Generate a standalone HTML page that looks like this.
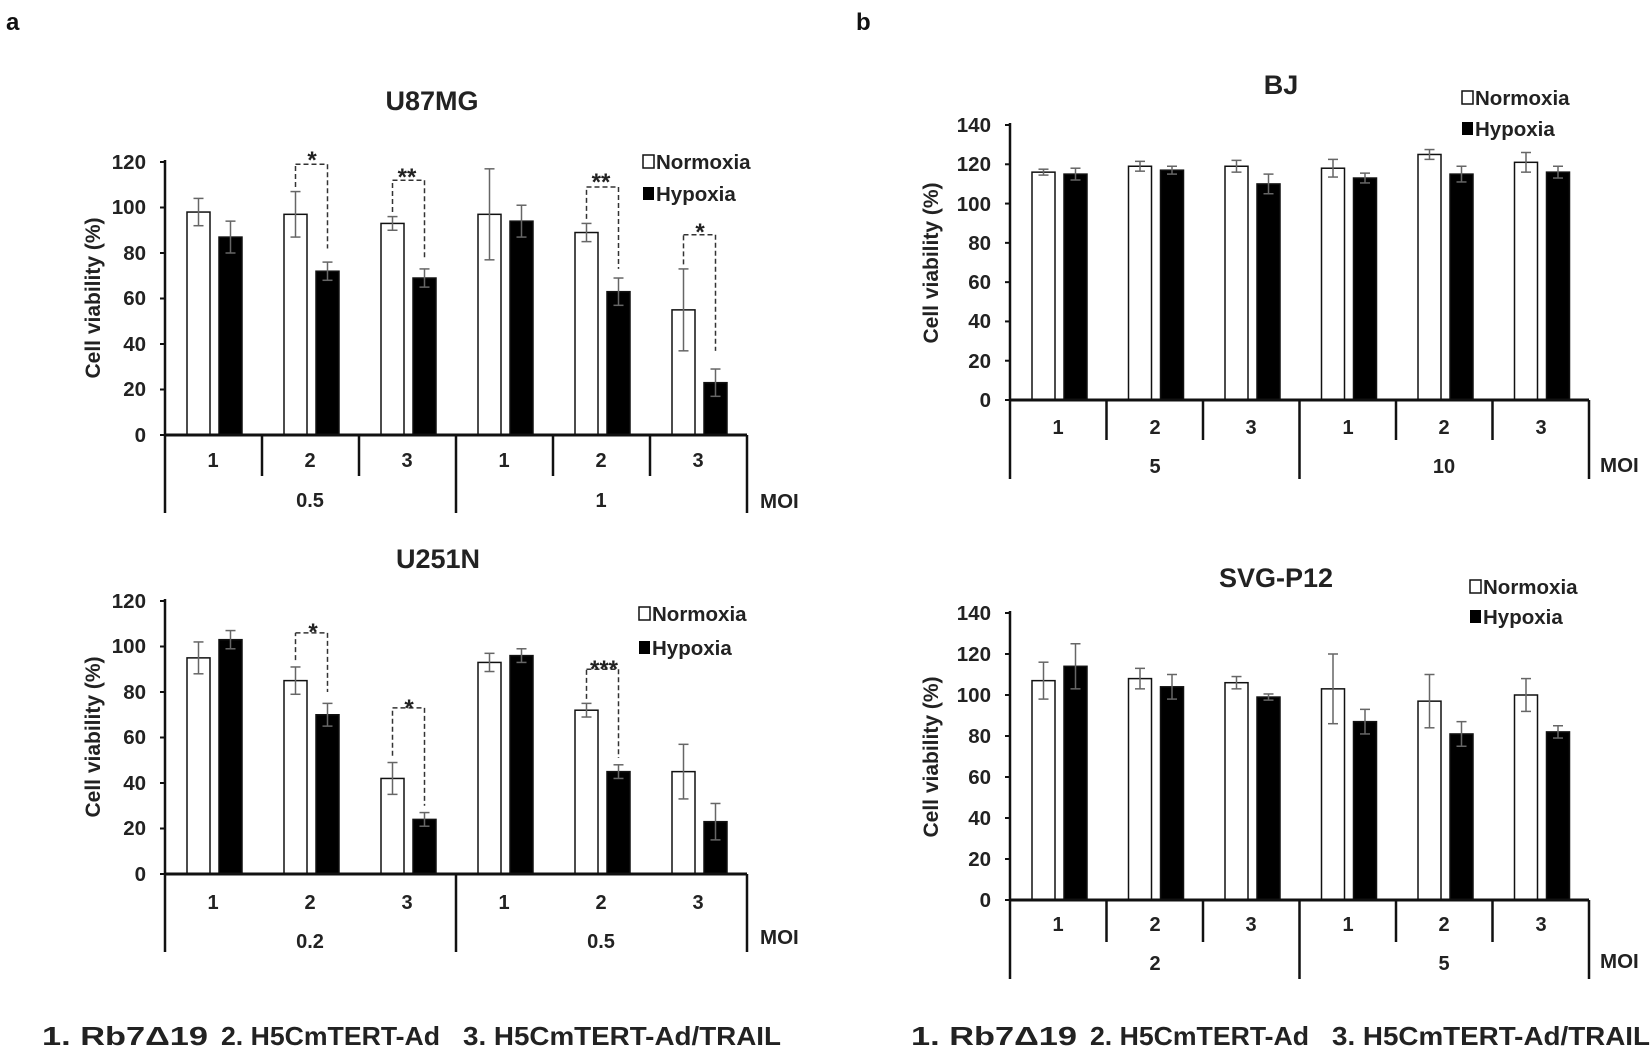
<!DOCTYPE html>
<html><head><meta charset="utf-8"><style>
html,body{margin:0;padding:0;background:#fff;}
svg{display:block;font-family:"Liberation Sans",Arial,sans-serif;font-weight:bold;}
</style></head><body>
<svg id="s" width="1650" height="1060" viewBox="0 0 1650 1060" xmlns="http://www.w3.org/2000/svg">
<rect width="1650" height="1060" fill="#fff"/>
<g id="g"></g>
<g font-size="24" fill="#111">
<text x="6" y="30">a</text><text x="856" y="30">b</text>
</g>
<g font-size="27" fill="#222" text-anchor="middle">
<text x="432" y="110">U87MG</text>
<text x="438" y="568">U251N</text>
<text x="1281" y="94">BJ</text>
<text x="1276" y="587">SVG-P12</text>
</g>
<g font-size="20.5" fill="#222" text-anchor="end">
<text x="146" y="442">0</text><text x="146" y="396">20</text><text x="146" y="351">40</text><text x="146" y="305">60</text><text x="146" y="260">80</text><text x="146" y="214">100</text><text x="146" y="169">120</text>
<text x="146" y="881">0</text><text x="146" y="835">20</text><text x="146" y="790">40</text><text x="146" y="744">60</text><text x="146" y="699">80</text><text x="146" y="653">100</text><text x="146" y="608">120</text>
<text x="991" y="407">0</text><text x="991" y="368">20</text><text x="991" y="328">40</text><text x="991" y="289">60</text><text x="991" y="250">80</text><text x="991" y="211">100</text><text x="991" y="171">120</text><text x="991" y="132">140</text>
<text x="991" y="907">0</text><text x="991" y="866">20</text><text x="991" y="825">40</text><text x="991" y="784">60</text><text x="991" y="743">80</text><text x="991" y="702">100</text><text x="991" y="661">120</text><text x="991" y="620">140</text>
</g>
<g font-size="21" fill="#222" text-anchor="middle">
<text transform="translate(100,298) rotate(-90)">Cell viability (%)</text>
<text transform="translate(100,737) rotate(-90)">Cell viability (%)</text>
<text transform="translate(938,263) rotate(-90)">Cell viability (%)</text>
<text transform="translate(938,757) rotate(-90)">Cell viability (%)</text>
</g>
<g font-size="20" fill="#222" text-anchor="middle">
<text x="213" y="467">1</text><text x="310" y="467">2</text><text x="407" y="467">3</text><text x="504" y="467">1</text><text x="601" y="467">2</text><text x="698" y="467">3</text>
<text x="310" y="507">0.5</text><text x="601" y="507">1</text>
<text x="213" y="909">1</text><text x="310" y="909">2</text><text x="407" y="909">3</text><text x="504" y="909">1</text><text x="601" y="909">2</text><text x="698" y="909">3</text>
<text x="310" y="948">0.2</text><text x="601" y="948">0.5</text>
<text x="1058" y="434">1</text><text x="1155" y="434">2</text><text x="1251" y="434">3</text><text x="1348" y="434">1</text><text x="1444" y="434">2</text><text x="1541" y="434">3</text>
<text x="1155" y="473">5</text><text x="1444" y="473">10</text>
<text x="1058" y="931">1</text><text x="1155" y="931">2</text><text x="1251" y="931">3</text><text x="1348" y="931">1</text><text x="1444" y="931">2</text><text x="1541" y="931">3</text>
<text x="1155" y="970">2</text><text x="1444" y="970">5</text>
</g>
<g font-size="20.5" fill="#222">
<text x="760" y="508">MOI</text><text x="760" y="944">MOI</text>
<text x="1600" y="472">MOI</text><text x="1600" y="968">MOI</text>
<text x="656" y="169">Normoxia</text><text x="656" y="201">Hypoxia</text>
<text x="652" y="621">Normoxia</text><text x="652" y="655">Hypoxia</text>
<text x="1475" y="105">Normoxia</text><text x="1475" y="136">Hypoxia</text>
<text x="1483" y="594">Normoxia</text><text x="1483" y="624">Hypoxia</text>
</g>
<g font-size="26" fill="#222">
<text x="42" y="1045" textLength="166" lengthAdjust="spacingAndGlyphs">1. Rb7Δ19</text>
<text x="221" y="1045" textLength="219" lengthAdjust="spacingAndGlyphs">2. H5CmTERT-Ad</text>
<text x="463" y="1045" textLength="318" lengthAdjust="spacingAndGlyphs">3. H5CmTERT-Ad/TRAIL</text>
<text x="911" y="1045" textLength="166" lengthAdjust="spacingAndGlyphs">1. Rb7Δ19</text>
<text x="1090" y="1045" textLength="219" lengthAdjust="spacingAndGlyphs">2. H5CmTERT-Ad</text>
<text x="1332" y="1045" textLength="318" lengthAdjust="spacingAndGlyphs">3. H5CmTERT-Ad/TRAIL</text>
</g>
<g font-size="24" fill="#222" text-anchor="middle">
<text x="312" y="168">*</text><text x="407" y="185">**</text><text x="601" y="190">**</text><text x="700" y="240">*</text>
<text x="313" y="640">*</text><text x="409" y="716">*</text><text x="604" y="677">***</text>
</g>
</svg>
<script>
var ns="http://www.w3.org/2000/svg",G=document.getElementById('g');
function el(t,a){var e=document.createElementNS(ns,t);for(var k in a)e.setAttribute(k,a[k]);G.appendChild(e);return e;}
function ln(x1,y1,x2,y2,c,w,d){var o={x1:x1,y1:y1,x2:x2,y2:y2,stroke:c||'#111','stroke-width':w||2};if(d)o['stroke-dasharray']=d;el('line',o);}
function chart(c){
 var ax=c.ax,gw=c.gw,zy=c.zy,ty=c.ty,max=c.max,xe=ax+6*gw;
 var sc=(zy-ty)/max;
 function Y(v){return zy-v*sc;}
 c.d.forEach(function(d,i){
  var gs=ax+i*gw;
  [[gs+22,d[0],d[1],'#fff'],[gs+54,d[2],d[3],'#000']].forEach(function(b){
   el('rect',{x:b[0],y:Y(b[1]),width:23,height:b[1]*sc,fill:b[3],stroke:'#111','stroke-width':1.5});
   var cx=b[0]+11.5;ln(cx,Y(b[1]+b[2]),cx,Y(b[1]-b[2]),'#666',1.5);
   ln(cx-5,Y(b[1]+b[2]),cx+5,Y(b[1]+b[2]),'#666',1.5);ln(cx-5,Y(b[1]-b[2]),cx+5,Y(b[1]-b[2]),'#666',1.5);
  });
 });
 (c.br||[]).forEach(function(b){var gs=ax+b[0]*gw,x1=gs+33.5,x2=gs+65.5;
  ln(x1,Y(b[1]),x1,Y(b[3]),'#333',1.5,'5,3');ln(x1,Y(b[3]),x2,Y(b[3]),'#333',1.5,'5,3');ln(x2,Y(b[3]),x2,Y(b[2]),'#333',1.5,'5,3');});
 ln(ax,zy,ax,ty-2,'#111',2.5);
 for(var v=0;v<=max;v+=20)ln(ax-5,Y(v),ax,Y(v),'#111',2);
 ln(ax,zy,xe,zy,'#111',3);
 for(var i=0;i<=6;i++){var x=ax+i*gw;
  if(i==0||i==3||i==6)ln(x,zy,x,c.oy,'#111',2.5);
  else if(c.inner)ln(x,zy,x,c.dy,'#111',2.5);}
 el('rect',{x:c.lx,y:c.ly1-13,width:11,height:13,fill:'#fff',stroke:'#111','stroke-width':1.5});
 el('rect',{x:c.lx,y:c.ly2-13,width:11,height:13,fill:'#000'});
}
chart({ax:165,gw:97,zy:435,ty:162,max:120,oy:513,dy:476,inner:true,lx:643,ly1:168,ly2:200,
 d:[[98,6,87,7],[97,10,72,4],[93,3,69,4],[97,20,94,7],[89,4,63,6],[55,18,23,6]],
 br:[[1,109,82,119],[2,98,78,112],[4,95,73,109],[5,75,37,88]]});
chart({ax:165,gw:97,zy:874,ty:601,max:120,oy:952,dy:915,inner:false,lx:639,ly1:620,ly2:654,
 d:[[95,7,103,4],[85,6,70,5],[42,7,24,3],[93,4,96,3],[72,3,45,3],[45,12,23,8]],
 br:[[1,94,80,106],[2,52,30,73],[4,77,51,90]]});
chart({ax:1010,gw:96.5,zy:400,ty:125,max:140,oy:479,dy:440,inner:true,lx:1462,ly1:104,ly2:135,
 d:[[116,1.5,115,3],[119,2.5,117,2],[119,3,110,5],[118,4.5,113,2.5],[125,2.5,115,4],[121,5,116,3]]});
chart({ax:1010,gw:96.5,zy:900,ty:613,max:140,oy:979,dy:942,inner:true,lx:1470,ly1:593,ly2:623,
 d:[[107,9,114,11],[108,5,104,6],[106,3,99,1.5],[103,17,87,6],[97,13,81,6],[100,8,82,3]]});
</script>
</body></html>
